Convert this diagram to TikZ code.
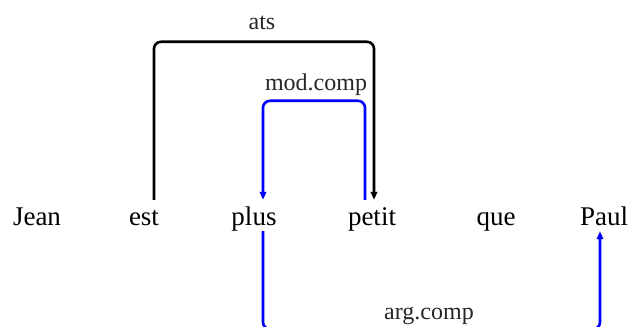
\documentclass[tikz,border=0pt]{standalone}
\usepackage{fontspec}
\setmainfont{Liberation Serif}
\usetikzlibrary{arrows.meta, positioning}
\tikzset{
  word/.style={anchor=base, inner xsep=0pt, inner ysep=5pt,
               text height=21pt, text depth=0pt,
               font=\fontsize{27}{30}\selectfont},
  deplabel/.style={anchor=base, inner sep=0pt, text=black!85,
                   font=\fontsize{24}{28}\selectfont},
  depK/.style={draw=black, line width=2.6pt, rounded corners=7pt,
               -{Triangle[width=6.5pt,length=8pt]}},
  depB/.style={draw=blue, line width=2.6pt, rounded corners=7pt,
               -{Triangle[width=6.5pt,length=8pt]}},
}
\begin{document}
\begin{tikzpicture}[x=1pt, y=1pt]
    \useasboundingbox (0,0) rectangle (630,327);
    %% the sentence
    \node[word] (jean)  at (37,101)  {Jean};
    \node[word] (est)   at (144,101) {est};
    \node[word] (plus)  at (254,101) {plus};
    \node[word] (petit) at (372,101) {petit};
    \node[word] (que)   at (496,101) {que};
    \node[word] (paul)  at (604,101) {Paul};
    %% dependencies
    \draw[depK] ([xshift=10pt]est.north) -- ++(0,158)
                -| ([xshift=2pt]petit.north);
    \draw[depB] ([xshift=-7pt]petit.north) -- ++(0,99)
                -| ([xshift=9pt]plus.north);
    %% this one runs just below the lower edge
    \draw[depB] ([xshift=9pt]plus.south) -- ++(0,-98)
                -| ([xshift=-4pt]paul.south);
    %% labels
    \node[deplabel] (lats) at (262,297) {ats};
    \node[deplabel] (lmod) at (316,236) {mod.comp};
    \node[deplabel] (larg) at (429,7)   {arg.comp};
\end{tikzpicture}
\end{document}
